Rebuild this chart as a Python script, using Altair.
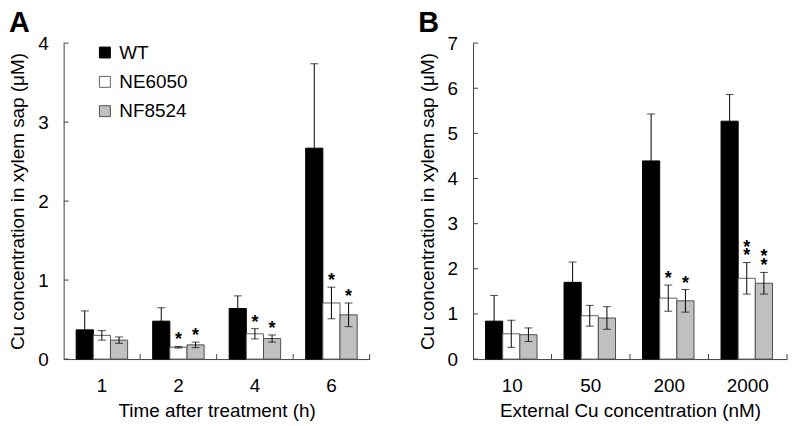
import altair as alt
import pandas as pd

SERIES = ["WT", "NE6050", "NF8524"]
FILLS = ["#000000", "#ffffff", "#c0c0c0"]
STROKES = ["#000000", "#606060", "#505050"]
AX = "#404040"

# Panel A: time after treatment (h)
A_CATS = ["1", "2", "4", "6"]
A_WT = [0.37, 0.48, 0.64, 2.67]
A_WT_ERR = [0.24, 0.17, 0.16, 1.07]
A_NE = [0.30, 0.15, 0.32, 0.71]
A_NE_ERR = [0.06, 0.01, 0.065, 0.20]
A_NF = [0.24, 0.18, 0.26, 0.56]
A_NF_ERR = [0.04, 0.035, 0.045, 0.15]
A_WT_STARS = [0, 0, 0, 0]
A_NE_STARS = [0, 1, 1, 1]
A_NF_STARS = [0, 1, 1, 1]

# Panel B: external Cu concentration (nM)
B_CATS = ["10", "50", "200", "2000"]
B_WT = [0.84, 1.70, 4.39, 5.27]
B_WT_ERR = [0.57, 0.45, 1.04, 0.59]
B_NE = [0.56, 0.96, 1.35, 1.79]
B_NE_ERR = [0.30, 0.23, 0.29, 0.35]
B_NF = [0.54, 0.91, 1.29, 1.68]
B_NF_ERR = [0.15, 0.25, 0.25, 0.24]
B_WT_STARS = [0, 0, 0, 0]
B_NE_STARS = [0, 0, 1, 2]
B_NF_STARS = [0, 0, 1, 2]

H = 318
YTITLE = "Cu concentration in xylem sap (\u03bcM)"


def panel(cats, vals, errs, stars, ymax, xtitle, letter, width, legx):
    rows = []
    for s, v, e, st in zip(SERIES, vals, errs, stars):
        for c, vv, ee, ss in zip(cats, v, e, st):
            rows.append(dict(cat=c, series=s, val=vv, lo=vv - ee, hi=vv + ee, stars=ss))
    df = pd.DataFrame(rows)

    xs = alt.Scale(paddingInner=0, paddingOuter=0)
    xaxis = alt.Axis(title=xtitle, labelAngle=0, ticks=False, domainColor=AX,
                     labelPadding=17.5, titlePadding=6)

    def X(**kw):
        return alt.X("cat:N", sort=cats, scale=xs, axis=xaxis, **kw)

    XO = alt.XOffset("series:N", sort=SERIES,
                     scale=alt.Scale(paddingOuter=0.73, paddingInner=0))
    ys = alt.Scale(domain=[0, ymax], nice=False, zero=True)
    yaxis = alt.Axis(title=YTITLE, values=list(range(ymax + 1)), ticks=False,
                     grid=False, domainColor=AX, labelPadding=15.5,
                     titlePadding=10, format="d")

    def Y(field):
        return alt.Y(field, scale=ys, axis=yaxis)

    leg = alt.Legend(title=None, orient="none", legendX=legx, legendY=0,
                     symbolType="square", symbolSize=121, symbolStrokeWidth=1,
                     labelFontSize=19, labelOffset=5, rowPadding=9.5, padding=0)

    base = alt.Chart(df)
    bars = base.mark_bar(strokeWidth=1).encode(
        x=X(), xOffset=XO, y=Y("val:Q"),
        fill=alt.Fill("series:N", sort=SERIES,
                      scale=alt.Scale(domain=SERIES, range=FILLS), legend=leg),
        stroke=alt.Stroke("series:N", sort=SERIES,
                          scale=alt.Scale(domain=SERIES, range=STROKES), legend=leg),
    )
    err = base.mark_rule(color="black", strokeWidth=1).encode(
        x=X(), xOffset=XO, y=Y("lo:Q"), y2="hi:Q")
    cap_hi = base.mark_tick(color="black", thickness=1, size=8,
                            orient="horizontal").encode(x=X(), xOffset=XO, y=Y("hi:Q"))
    cap_lo = base.mark_tick(color="black", thickness=1, size=8,
                            orient="horizontal").encode(x=X(), xOffset=XO, y=Y("lo:Q"))
    star1 = base.transform_filter("datum.stars >= 1").mark_text(
        text="*", fontSize=18, fontWeight="bold", baseline="alphabetic",
        dy=-1, color="black").encode(x=X(), xOffset=XO, y=Y("hi:Q"))
    star2 = base.transform_filter("datum.stars >= 2").mark_text(
        text="*", fontSize=18, fontWeight="bold", baseline="alphabetic",
        dy=-10, color="black").encode(x=X(), xOffset=XO, y=Y("hi:Q"))
    xt = alt.Chart(pd.DataFrame({"cat": cats})).mark_rule(color=AX).encode(
        x=X(bandPosition=1), y=alt.value(H), y2=alt.value(H - 5))
    yt = alt.Chart(pd.DataFrame({"v": list(range(ymax + 1))})).mark_rule(color=AX).encode(
        y=Y("v:Q"), x=alt.value(0), x2=alt.value(5))

    return alt.layer(bars, err, cap_hi, cap_lo, star1, star2, xt, yt).properties(
        width=width, height=H,
        title=alt.TitleParams(letter, anchor="start", frame="bounds", fontSize=29,
                              fontWeight="bold", offset=-4, color="black"),
    )


pa = panel(A_CATS, [A_WT, A_NE, A_NF], [A_WT_ERR, A_NE_ERR, A_NF_ERR],
           [A_WT_STARS, A_NE_STARS, A_NF_STARS], 4,
           "Time after treatment (h)", "A", 308, 32)
pb = panel(B_CATS, [B_WT, B_NE, B_NF], [B_WT_ERR, B_NE_ERR, B_NF_ERR],
           [B_WT_STARS, B_NE_STARS, B_NF_STARS], 7,
           "External Cu concentration (nM)", "B", 316, 26)

chart = alt.hconcat(pa, pb, spacing=47).properties(padding=0).configure(
    font="Liberation Sans"
).configure_view(stroke=None).configure_axis(
    labelFontSize=19, titleFontSize=19, labelColor="black", titleColor="black",
    titleFontWeight="normal", labelFont="Liberation Sans", titleFont="Liberation Sans"
).configure_legend(labelFont="Liberation Sans", labelColor="black")

chart.save("out.html", embed_options={"renderer": "svg", "actions": False})
